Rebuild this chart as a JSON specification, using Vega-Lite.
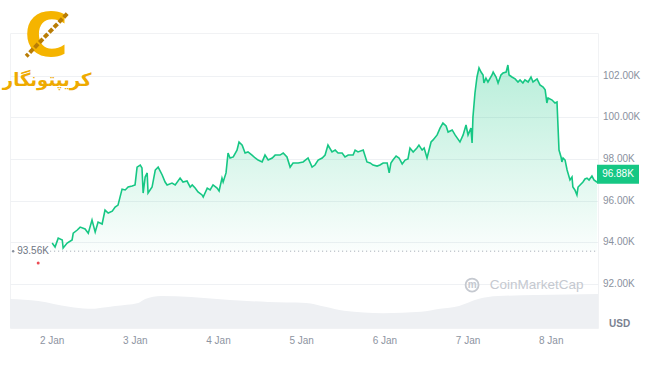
{
"$schema":"https://vega.github.io/schema/vega-lite/v6.json",
"width":588,"height":295,
"autosize":"none",
"padding":{"left":10,"top":33,"right":52,"bottom":37},
"background":"#ffffff",
"config":{"font":"Liberation Sans","view":{"stroke":"#f1f2f4"}},
"datasets":{
"price":[
{"t":"2025-01-02T00:00:00Z","price":93950},{"t":"2025-01-02T00:50:00Z","price":93760},{"t":"2025-01-02T01:45:00Z","price":94190},{"t":"2025-01-02T02:55:00Z","price":94100},{"t":"2025-01-02T03:10:00Z","price":93710},{"t":"2025-01-02T04:20:00Z","price":93950},{"t":"2025-01-02T05:45:00Z","price":94100},{"t":"2025-01-02T06:05:00Z","price":94430},{"t":"2025-01-02T07:15:00Z","price":94580},{"t":"2025-01-02T08:05:00Z","price":94720},{"t":"2025-01-02T09:30:00Z","price":94630},{"t":"2025-01-02T10:25:00Z","price":94430},{"t":"2025-01-02T11:30:00Z","price":95060},{"t":"2025-01-02T12:25:00Z","price":94480},{"t":"2025-01-02T13:15:00Z","price":94960},{"t":"2025-01-02T14:25:00Z","price":94870},{"t":"2025-01-02T15:15:00Z","price":95540},{"t":"2025-01-02T16:10:00Z","price":95400},{"t":"2025-01-02T17:20:00Z","price":95490},{"t":"2025-01-02T18:10:00Z","price":95690},{"t":"2025-01-02T19:00:00Z","price":95780},{"t":"2025-01-02T20:10:00Z","price":96550},{"t":"2025-01-02T21:05:00Z","price":96510},{"t":"2025-01-02T21:55:00Z","price":96650},{"t":"2025-01-02T23:05:00Z","price":96700},{"t":"2025-01-02T23:55:00Z","price":96750},
{"t":"2025-01-03T00:30:00Z","price":97610},{"t":"2025-01-03T01:25:00Z","price":97710},{"t":"2025-01-03T01:55:00Z","price":97570},{"t":"2025-01-03T02:15:00Z","price":96360},{"t":"2025-01-03T02:50:00Z","price":97130},{"t":"2025-01-03T03:25:00Z","price":97330},{"t":"2025-01-03T03:40:00Z","price":96360},{"t":"2025-01-03T04:50:00Z","price":96650},{"t":"2025-01-03T05:45:00Z","price":97470},{"t":"2025-01-03T06:35:00Z","price":97610},{"t":"2025-01-03T07:45:00Z","price":97230},{"t":"2025-01-03T08:35:00Z","price":96890},{"t":"2025-01-03T09:10:00Z","price":96750},{"t":"2025-01-03T10:35:00Z","price":96840},{"t":"2025-01-03T11:30:00Z","price":96750},{"t":"2025-01-03T12:55:00Z","price":97080},{"t":"2025-01-03T13:45:00Z","price":96890},{"t":"2025-01-03T14:55:00Z","price":96940},{"t":"2025-01-03T15:50:00Z","price":96650},{"t":"2025-01-03T16:25:00Z","price":96750},{"t":"2025-01-03T17:15:00Z","price":96600},{"t":"2025-01-03T18:05:00Z","price":96410},{"t":"2025-01-03T19:15:00Z","price":96270},{"t":"2025-01-03T19:35:00Z","price":96170},{"t":"2025-01-03T20:45:00Z","price":96600},{"t":"2025-01-03T21:35:00Z","price":96510},{"t":"2025-01-03T22:25:00Z","price":96750},{"t":"2025-01-03T23:35:00Z","price":96600},
{"t":"2025-01-04T00:10:00Z","price":96460},{"t":"2025-01-04T01:00:00Z","price":97080},{"t":"2025-01-04T01:20:00Z","price":96890},{"t":"2025-01-04T02:10:00Z","price":97330},{"t":"2025-01-04T02:45:00Z","price":98290},{"t":"2025-01-04T03:20:00Z","price":98050},{"t":"2025-01-04T04:15:00Z","price":98100},{"t":"2025-01-04T05:20:00Z","price":98430},{"t":"2025-01-04T05:55:00Z","price":98820},{"t":"2025-01-04T06:50:00Z","price":98670},{"t":"2025-01-04T07:40:00Z","price":98290},{"t":"2025-01-04T08:30:00Z","price":98340},{"t":"2025-01-04T09:40:00Z","price":98190},{"t":"2025-01-04T10:35:00Z","price":98050},{"t":"2025-01-04T11:25:00Z","price":97950},{"t":"2025-01-04T12:35:00Z","price":97860},{"t":"2025-01-04T13:25:00Z","price":98190},{"t":"2025-01-04T14:20:00Z","price":97950},{"t":"2025-01-04T15:30:00Z","price":98050},{"t":"2025-01-04T16:20:00Z","price":98190},{"t":"2025-01-04T17:45:00Z","price":98190},{"t":"2025-01-04T18:40:00Z","price":98290},{"t":"2025-01-04T19:45:00Z","price":98100},{"t":"2025-01-04T20:40:00Z","price":97610},{"t":"2025-01-04T21:30:00Z","price":97810},{"t":"2025-01-04T23:00:00Z","price":97810},
{"t":"2025-01-05T00:25:00Z","price":97860},{"t":"2025-01-05T01:50:00Z","price":98050},{"t":"2025-01-05T03:00:00Z","price":97610},{"t":"2025-01-05T03:50:00Z","price":97710},{"t":"2025-01-05T04:45:00Z","price":97950},{"t":"2025-01-05T05:55:00Z","price":98050},{"t":"2025-01-05T06:45:00Z","price":98190},{"t":"2025-01-05T07:35:00Z","price":98670},{"t":"2025-01-05T08:45:00Z","price":98340},{"t":"2025-01-05T09:40:00Z","price":98430},{"t":"2025-01-05T10:30:00Z","price":98290},{"t":"2025-01-05T11:40:00Z","price":98290},{"t":"2025-01-05T12:30:00Z","price":98100},{"t":"2025-01-05T13:25:00Z","price":98190},{"t":"2025-01-05T14:50:00Z","price":98190},{"t":"2025-01-05T15:25:00Z","price":98430},{"t":"2025-01-05T16:15:00Z","price":98340},{"t":"2025-01-05T17:45:00Z","price":98430},{"t":"2025-01-05T18:50:00Z","price":97860},{"t":"2025-01-05T19:45:00Z","price":97810},{"t":"2025-01-05T20:35:00Z","price":97710},{"t":"2025-01-05T21:45:00Z","price":97660},{"t":"2025-01-05T22:35:00Z","price":97710},{"t":"2025-01-05T23:30:00Z","price":97810},
{"t":"2025-01-06T00:40:00Z","price":97810},{"t":"2025-01-06T01:15:00Z","price":97330},{"t":"2025-01-06T01:45:00Z","price":97810},{"t":"2025-01-06T02:20:00Z","price":97950},{"t":"2025-01-06T03:15:00Z","price":98140},{"t":"2025-01-06T04:05:00Z","price":98050},{"t":"2025-01-06T05:00:00Z","price":97760},{"t":"2025-01-06T05:50:00Z","price":97950},{"t":"2025-01-06T06:40:00Z","price":98000},{"t":"2025-01-06T07:15:00Z","price":98530},{"t":"2025-01-06T08:10:00Z","price":98340},{"t":"2025-01-06T09:15:00Z","price":98530},{"t":"2025-01-06T09:50:00Z","price":98670},{"t":"2025-01-06T10:45:00Z","price":98430},{"t":"2025-01-06T11:20:00Z","price":98530},{"t":"2025-01-06T12:10:00Z","price":98050},{"t":"2025-01-06T13:20:00Z","price":98820},{"t":"2025-01-06T13:55:00Z","price":98920},{"t":"2025-01-06T15:05:00Z","price":99160},{"t":"2025-01-06T15:55:00Z","price":99490},{"t":"2025-01-06T16:45:00Z","price":99730},{"t":"2025-01-06T17:40:00Z","price":99590},{"t":"2025-01-06T18:15:00Z","price":99300},{"t":"2025-01-06T19:25:00Z","price":99400},{"t":"2025-01-06T20:15:00Z","price":99160},{"t":"2025-01-06T21:40:00Z","price":98820},{"t":"2025-01-06T22:35:00Z","price":99160},{"t":"2025-01-06T23:25:00Z","price":99640},
{"t":"2025-01-07T00:00:00Z","price":99160},{"t":"2025-01-07T00:50:00Z","price":99490},{"t":"2025-01-07T01:10:00Z","price":98770},{"t":"2025-01-07T01:25:00Z","price":100020},{"t":"2025-01-07T02:00:00Z","price":101180},{"t":"2025-01-07T02:35:00Z","price":101950},{"t":"2025-01-07T03:10:00Z","price":102390},{"t":"2025-01-07T03:45:00Z","price":102190},{"t":"2025-01-07T04:20:00Z","price":102050},{"t":"2025-01-07T04:35:00Z","price":101660},{"t":"2025-01-07T05:10:00Z","price":101900},{"t":"2025-01-07T05:45:00Z","price":101710},{"t":"2025-01-07T06:55:00Z","price":102050},{"t":"2025-01-07T07:15:00Z","price":102190},{"t":"2025-01-07T08:05:00Z","price":101950},{"t":"2025-01-07T08:40:00Z","price":101660},{"t":"2025-01-07T09:30:00Z","price":102050},{"t":"2025-01-07T10:05:00Z","price":102140},{"t":"2025-01-07T11:00:00Z","price":102190},{"t":"2025-01-07T11:30:00Z","price":102530},{"t":"2025-01-07T11:50:00Z","price":102050},{"t":"2025-01-07T12:40:00Z","price":101950},{"t":"2025-01-07T13:35:00Z","price":101860},{"t":"2025-01-07T14:25:00Z","price":101710},{"t":"2025-01-07T15:00:00Z","price":101810},{"t":"2025-01-07T15:50:00Z","price":101660},{"t":"2025-01-07T16:25:00Z","price":101810},{"t":"2025-01-07T17:20:00Z","price":101710},{"t":"2025-01-07T18:10:00Z","price":101950},{"t":"2025-01-07T18:45:00Z","price":101710},{"t":"2025-01-07T19:55:00Z","price":101860},{"t":"2025-01-07T20:45:00Z","price":101570},{"t":"2025-01-07T21:40:00Z","price":101470},{"t":"2025-01-07T22:15:00Z","price":101330},{"t":"2025-01-07T22:45:00Z","price":100700},{"t":"2025-01-07T23:05:00Z","price":100940},
{"t":"2025-01-08T00:15:00Z","price":100840},{"t":"2025-01-08T01:05:00Z","price":100700},{"t":"2025-01-08T01:40:00Z","price":100750},{"t":"2025-01-08T02:15:00Z","price":98430},{"t":"2025-01-08T02:50:00Z","price":98100},{"t":"2025-01-08T03:05:00Z","price":97860},{"t":"2025-01-08T03:25:00Z","price":98050},{"t":"2025-01-08T04:00:00Z","price":97950},{"t":"2025-01-08T04:35:00Z","price":97470},{"t":"2025-01-08T04:50:00Z","price":97330},{"t":"2025-01-08T05:25:00Z","price":96990},{"t":"2025-01-08T06:00:00Z","price":97130},{"t":"2025-01-08T06:15:00Z","price":96650},{"t":"2025-01-08T06:50:00Z","price":96510},{"t":"2025-01-08T07:25:00Z","price":96270},{"t":"2025-01-08T07:45:00Z","price":96650},{"t":"2025-01-08T08:20:00Z","price":96750},{"t":"2025-01-08T09:10:00Z","price":96890},{"t":"2025-01-08T09:45:00Z","price":97040},{"t":"2025-01-08T10:20:00Z","price":97080},{"t":"2025-01-08T10:55:00Z","price":96990},{"t":"2025-01-08T11:45:00Z","price":97180},{"t":"2025-01-08T12:20:00Z","price":96990},{"t":"2025-01-08T13:15:00Z","price":96880}
],
"volume":[
{"t":"2025-01-01T11:50:00Z","vol":59},{"t":"2025-01-01T20:00:00Z","vol":55},{"t":"2025-01-02T04:55:00Z","vol":43},{"t":"2025-01-02T10:25:00Z","vol":39},{"t":"2025-01-02T18:10:00Z","vol":45},{"t":"2025-01-03T00:50:00Z","vol":51},{"t":"2025-01-03T02:50:00Z","vol":59},{"t":"2025-01-03T07:25:00Z","vol":65},{"t":"2025-01-03T16:05:00Z","vol":63},{"t":"2025-01-04T03:20:00Z","vol":57},{"t":"2025-01-04T14:20:00Z","vol":53},{"t":"2025-01-05T01:15:00Z","vol":51},{"t":"2025-01-05T06:45:00Z","vol":43},{"t":"2025-01-05T12:15:00Z","vol":35},{"t":"2025-01-05T23:30:00Z","vol":30},{"t":"2025-01-06T10:25:00Z","vol":33},{"t":"2025-01-06T15:55:00Z","vol":39},{"t":"2025-01-06T21:25:00Z","vol":45},{"t":"2025-01-07T02:55:00Z","vol":59},{"t":"2025-01-07T08:40:00Z","vol":65},{"t":"2025-01-07T19:35:00Z","vol":67},{"t":"2025-01-08T13:30:00Z","vol":69}
],
"days":[
{"t":"2025-01-02T00:00:00Z","label":"2 Jan"},{"t":"2025-01-03T00:00:00Z","label":"3 Jan"},{"t":"2025-01-04T00:00:00Z","label":"4 Jan"},{"t":"2025-01-05T00:00:00Z","label":"5 Jan"},{"t":"2025-01-06T00:00:00Z","label":"6 Jan"},{"t":"2025-01-07T00:00:00Z","label":"7 Jan"},{"t":"2025-01-08T00:00:00Z","label":"8 Jan"}
],
"ticks":[
{"price":92000,"label":"92.00K"},{"price":94000,"label":"94.00K"},{"price":96000,"label":"96.00K"},{"price":98000,"label":"98.00K"},{"price":100000,"label":"100.00K"},{"price":102000,"label":"102.00K"}
]
},
"layer":[
 {"data":{"name":"volume"},"mark":{"type":"area","color":"#eef0f3","interpolate":"monotone"},
  "encoding":{
   "x":{"field":"t","type":"temporal","scale":{"type":"utc","domain":[1735732200000,1736343000000]},"axis":null},
   "y":{"field":"vol","type":"quantitative","scale":{"domain":[0,600]},"axis":null}}},
 {"encoding":{"y":{"field":"price","type":"quantitative","scale":{"domain":[89860,104070],"nice":false,"zero":false},
   "axis":{"orient":"right","values":[92000,94000,96000,98000,100000,102000],"labels":false,"domain":false,"ticks":false,"grid":true,"gridColor":"#eff1f4","title":null}}},
  "layer":[
   {"data":{"name":"price"},"mark":{"type":"area","fill":{"gradient":"linear","x1":0,"y1":0,"x2":0,"y2":1,"stops":[{"offset":0,"color":"rgba(22,199,132,0.30)"},{"offset":1,"color":"rgba(22,199,132,0.02)"}]}},
    "encoding":{"x":{"field":"t","type":"temporal","axis":null},"y2":{"datum":93560}}},
   {"data":{"name":"price"},"mark":{"type":"line","color":"#16c784","strokeWidth":1.6},
    "encoding":{"x":{"field":"t","type":"temporal","axis":null}}},
   {"data":{"name":"ticks"},"mark":{"type":"text","x":"width","dx":5,"align":"left","baseline":"middle","fontSize":10,"color":"#8a919e"},
    "encoding":{"text":{"field":"label"}}},
   {"data":{"values":[{"t":"2025-01-01T23:25:00Z","t2":"2025-01-08T13:30:00Z","price":93560}]},"mark":{"type":"rule","color":"#9ea4b0","strokeDash":[1,3],"strokeWidth":1},
    "encoding":{"x":{"field":"t","type":"temporal","axis":null},"x2":{"field":"t2"}}},
   {"data":{"values":[{"t":"2025-01-01T13:54:00Z","price":93560,"label":"93.56K"}]},"mark":{"type":"text","align":"left","baseline":"middle","fontSize":10,"color":"#6f7684"},
    "encoding":{"x":{"field":"t","type":"temporal","axis":null},"text":{"field":"label"}}},
   {"data":{"values":[{"t":"2025-01-01T12:45:00Z","price":93560}]},"mark":{"type":"point","filled":true,"color":"#8a919e","size":6,"opacity":1},
    "encoding":{"x":{"field":"t","type":"temporal","axis":null}}},
   {"data":{"values":[{"t":"2025-01-01T19:58:00Z","price":92990}]},"mark":{"type":"point","filled":true,"color":"#ea3943","size":9,"opacity":0.9},
    "encoding":{"x":{"field":"t","type":"temporal","axis":null}}},
   {"data":{"values":[{"t":"2025-01-08T13:30:00Z","price":96880,"label":"96.88K"}]},"mark":{"type":"point","filled":true,"color":"#16c784","opacity":1,"shape":"M-1,-0.45H1V0.45H-1Z","size":1764,"xOffset":20,"yOffset":-8},
    "encoding":{"x":{"field":"t","type":"temporal","axis":null}}},
   {"data":{"values":[{"t":"2025-01-08T13:30:00Z","price":96880,"label":"96.88K"}]},"mark":{"type":"text","align":"center","baseline":"middle","fontSize":10,"color":"#ffffff","xOffset":20,"yOffset":-8},
    "encoding":{"x":{"field":"t","type":"temporal","axis":null},"text":{"field":"label"}}},
   {"data":{"values":[{"t":"2025-01-07T01:10:00Z","price":91930}]},"mark":{"type":"point","filled":false,"color":"#c5c9d0","strokeWidth":1.8,"size":169,"opacity":1},
    "encoding":{"x":{"field":"t","type":"temporal","axis":null}}},
   {"data":{"values":[{"t":"2025-01-07T01:10:00Z","price":91930,"label":"m"}]},"mark":{"type":"text","align":"center","baseline":"middle","fontSize":10,"fontWeight":"bold","color":"#c5c9d0"},
    "encoding":{"x":{"field":"t","type":"temporal","axis":null},"text":{"field":"label"}}},
   {"data":{"values":[{"t":"2025-01-07T19:46:00Z","price":91930,"label":"CoinMarketCap"}]},"mark":{"type":"text","align":"center","baseline":"middle","fontSize":13.5,"color":"#c5c9d0"},
    "encoding":{"x":{"field":"t","type":"temporal","axis":null},"text":{"field":"label"}}},
   {"data":{"values":[{"t":"2025-01-01T22:16:00Z","price":103830,"label":"C"}]},"mark":{"type":"text","align":"center","baseline":"middle","fontSize":60,"fontWeight":"bold","color":"#f5b400","font":"DejaVu Sans"},
    "encoding":{"x":{"field":"t","type":"temporal","axis":null},"text":{"field":"label"}}},
   {"data":{"values":[{"t":"2025-01-02T04:20:00Z","t2":"2025-01-01T16:30:00Z","price":105000,"price2":102950}]},"mark":{"type":"rule","color":"#b97d05","strokeWidth":4,"strokeDash":[5,2]},
    "encoding":{"x":{"field":"t","type":"temporal","axis":null},"x2":{"field":"t2"},"y2":{"field":"price2"}}},
   {"data":{"values":[{"t":"2025-01-01T22:33:00Z","price":101760,"label":"کریپتونگار"}]},"mark":{"type":"text","align":"center","baseline":"middle","fontSize":18,"fontWeight":"bold","color":"#eeaa00","font":"DejaVu Sans"},
    "encoding":{"x":{"field":"t","type":"temporal","axis":null},"text":{"field":"label"}}}
  ]},
 {"data":{"name":"days"},"mark":{"type":"text","y":"height","dy":13,"align":"center","baseline":"middle","fontSize":10,"color":"#8d94a1"},
  "encoding":{"x":{"field":"t","type":"temporal","axis":null},"text":{"field":"label"}}},
 {"data":{"values":[{"label":"USD"}]},"mark":{"type":"text","x":"width","y":"height","dx":11,"dy":-4,"align":"left","baseline":"middle","fontSize":10,"fontWeight":"bold","color":"#7a8291"},
  "encoding":{"text":{"field":"label"}}}
],
"resolve":{"scale":{"y":"independent"}}
}
